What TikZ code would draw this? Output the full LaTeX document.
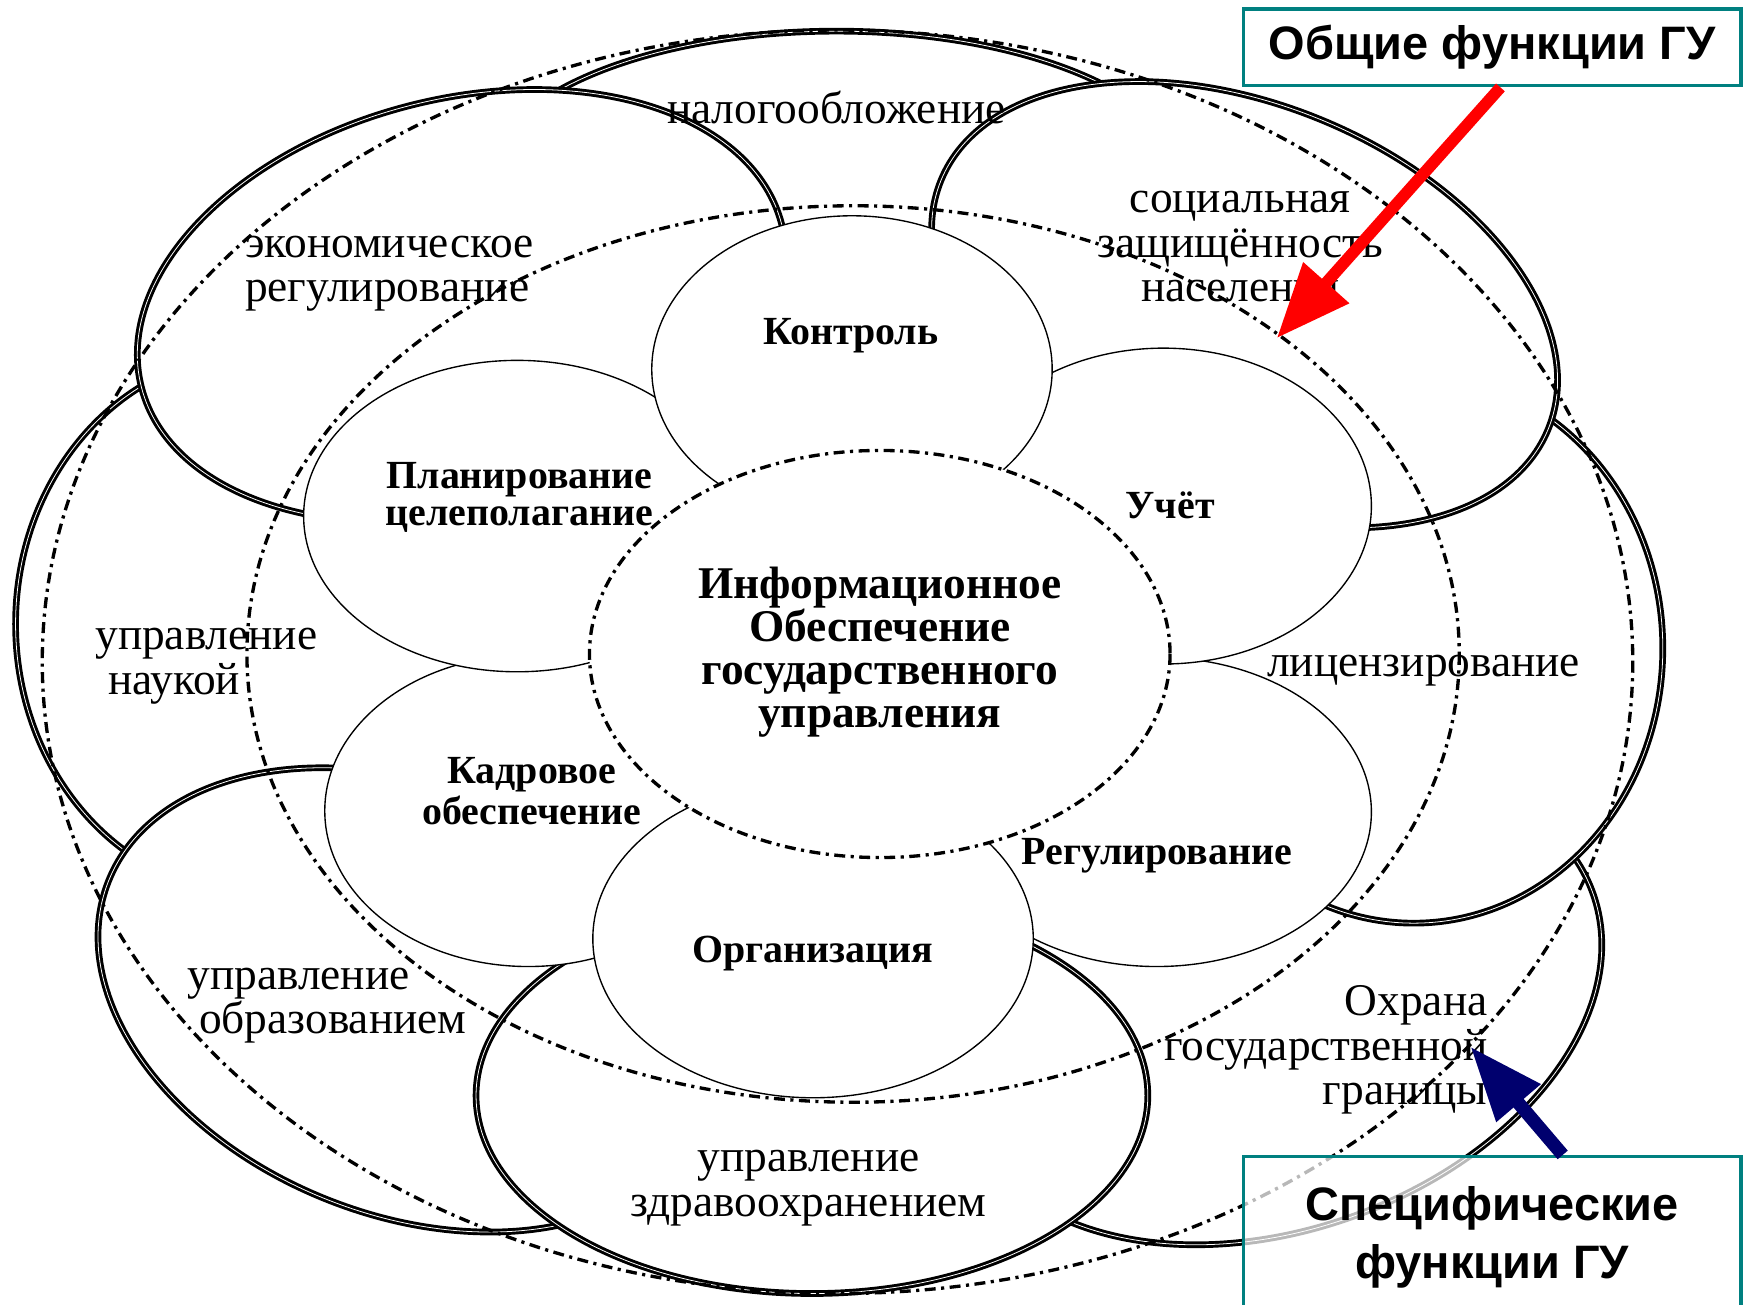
\documentclass[tikz,border=0pt]{standalone}
\usepackage{fontspec}
\setmainfont{Liberation Serif}
\newfontfamily\headfont{Liberation Sans}
\usetikzlibrary{arrows.meta,calc}
\definecolor{boxteal}{RGB}{0,128,128}
\definecolor{arrnavy}{RGB}{0,0,110}
\begin{document}
\begin{tikzpicture}[x=0.01cm,y=-0.01cm,
  outerp/.style={draw=black, line width=0.75pt, double=white, double distance=0.2pt, fill=white},
  innerp/.style={draw=black, line width=0.35pt, fill=white},
  ring/.style={draw=black, line width=0.85pt, dash pattern=on 2.8pt off 1.4pt on 0.8pt off 1.4pt},
  outerlbl/.style={font=\fontsize{11.6}{11.4}\selectfont, inner sep=0pt},
  innerlbl/.style={font=\fontsize{10.2}{9.4}\selectfont\bfseries, inner sep=0pt, align=center},
  centerlbl/.style={font=\fontsize{11.6}{11}\selectfont\bfseries, inner sep=0pt, align=center},
  headbox/.style={draw=boxteal, line width=0.9pt, fill=white, inner sep=0pt, align=center,
    font=\headfont\bfseries\fontsize{12}{14.8}\selectfont},
  redarr/.style={draw=red, line width=3pt, -{Triangle[length=19pt,width=15pt]}},
  navyarr/.style={draw=arrnavy, line width=3.4pt, -{Triangle[length=19pt,width=14pt]}}]

\fill[white] (0,0) rectangle (1568,1173);
\useasboundingbox (0,0) rectangle (1568,1173);

% outer (specific) petals
\path[outerp] (752,168) ellipse (318 and 140);
\path[outerp] (230,561) ellipse (216 and 243);
\path[outerp, rotate around={20:(1150,905)}] (1150,905) ellipse (300 and 200);
\path[outerp] (1271,583) ellipse (224 and 247);
\path[outerp, rotate around={-21.8:(365,899)}] (365,899) ellipse (288 and 193);
\path[outerp, rotate around={14.2:(415,275)}] (415,275) ellipse (297 and 186);
\path[outerp, rotate around={-22.3:(1119,274)}] (1119,274) ellipse (295 and 180);
\path[outerp] (730,985) ellipse (302 and 178);

% inner (general) petals
\path[innerp] (475,729) ellipse (183 and 140);
\path[innerp] (465,464) ellipse (192 and 140);
\path[innerp] (1040,730) ellipse (193 and 139);
\path[innerp] (1046,455) ellipse (187 and 142);
\path[innerp] (731,844) ellipse (198 and 143);
\path[innerp] (766,332) ellipse (180 and 138);

% centre
\path[ring, fill=white] (791,588) ellipse (261 and 183);

% rings
\path[ring] (767,588) ellipse (545 and 403);
\path[ring] (753,595) ellipse (715 and 568);

% outer labels
\node[outerlbl] (nalogT) at (752,97) {налогообложение};
\node[outerlbl, align=left] (econT) at (350,246) {экономическое\\регулирование};
\node[outerlbl, align=center] (socT) at (1115,222) {социальная\\защищённость\\населения};
\node[outerlbl, align=left, anchor=west] (sciT) at (85,599) {управление\\\hspace*{3.4pt}наукой};
\node[outerlbl] (licT) at (1280,603) {лицензирование};
\node[outerlbl, align=left] (eduT) at (294,904) {управление\\\hspace*{3pt}образованием};
\node[outerlbl, align=center] (healthT) at (727,1068) {управление\\здравоохранением};
\node[outerlbl, align=right] (bordT) at (1192,944) {Охрана\\государственной\\границы};

% inner labels
\node[innerlbl] (ctrlT) at (765,302) {Контроль};
\node[innerlbl] (uchT) at (1052,454) {Учёт};
\node[innerlbl] (planT) at (467,447) {Планирование\\целеполагание};
\node[innerlbl] (cadT) at (478,711) {Кадровое\\обеспечение};
\node[innerlbl] (regT) at (1040,769) {Регулирование};
\node[innerlbl] (orgT) at (731,857) {Организация};
\node[centerlbl] (centT) at (791,586) {Информационное\\Обеспечение\\государственного\\управления};

% heading boxes
\node[headbox, minimum width=4.47cm, minimum height=0.69cm] (topbox) at (1341.5,42.5) {\raisebox{-1.2pt}{Общие функции ГУ}};
\node[headbox, fill opacity=0.72, text opacity=1, minimum width=4.47cm, minimum height=1.45cm] (botbox) at (1341.5,1112.5) {Специфические\\функции ГУ};

% arrows
\coordinate (redtip) at (1148,304);
\coordinate (navytip) at (1322,941);
\draw[redarr] ($(topbox.south)+(7.5,0)$) -- (redtip);
\draw[navyarr] ($(botbox.north)+(63.5,0)$) -- (navytip);
\end{tikzpicture}
\end{document}
